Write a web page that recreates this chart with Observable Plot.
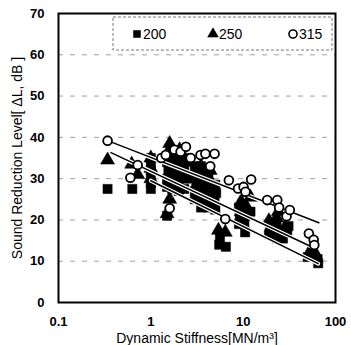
<!DOCTYPE html>
<html><head><meta charset="utf-8">
<script src="https://cdn.jsdelivr.net/npm/d3@7"></script>
<script src="https://cdn.jsdelivr.net/npm/@observablehq/plot@0.6"></script>
<style>body{margin:0;background:#fff} svg{display:block}</style>
</head><body><div id="chart"></div>
<script>
const xTicks = [0.1, 1, 10, 100];
const xTickLabels = ["0.1", "1", "10", "100"];
const yTicks = [0, 10, 20, 30, 40, 50, 60, 70];
const gridY = [10, 20, 30, 40, 50, 60];
const seriesNames = ["200", "250", "315"];
const seriesSymbols = ["square", "triangle", "circle"];

const s200 = [
  [0.34,27.5],[0.63,27.5],
  [1.0,27.5],[1.0,29],[1.0,30.5],[1.0,32],[1.0,33.5],[1.0,35],
  [1.5,21],[1.5,28],[1.5,30],[1.55,32],[1.5,34],
  [1.7,27.5],[1.75,29.5],[1.7,31.5],[1.8,33.5],[1.7,35.5],
  [2.0,27],[2.0,29],[2.1,31],[2.0,33],[2.1,35],
  [2.3,27.5],[2.4,30],[2.3,32.5],[2.5,35],
  [3.0,25],[3.0,27],[3.1,29],[3.0,31],[3.0,33],
  [3.5,23],[3.5,25],[3.6,27],[3.5,29],[3.6,31],[3.5,33],
  [4.2,23],[4.1,25],[4.2,27],[4.3,29],[4.2,31],
  [5.0,22.5],[4.9,24.5],[5.1,26.5],[5.0,28.5],
  [5.5,14],[5.6,15.5],[6.5,13.5],
  [9.0,19],[9.2,21],[9.0,23],
  [10.5,17],[10.3,19],[10.6,21],[10.2,23],
  [12,22],
  [19,16.5],[19.5,18.5],
  [23,15.5],[23.5,17.5],[23,19.5],
  [27,15.5],[27,17],
  [30,17],[31,18.5],
  [50,11],[57,11.5],[56,13],[65,9.5],[64,10.5]
];
const s250 = [
  [0.34,34.5],[0.62,33.5],[0.72,31],
  [1.0,30],[1.0,32.5],[1.0,35],
  [1.5,21.5],[1.6,25],[1.6,38.5],[1.5,36],[1.65,37],
  [2.0,31],[2.0,34],[2.05,37],
  [2.5,30],[2.5,34],
  [3.5,27],[3.4,30],[3.5,33],
  [4.5,26],[4.5,29],[4.4,32],
  [5.4,17.5],[6.4,17],
  [9.5,22],[9.5,24.5],
  [11,23],[12,25.5],
  [19,19.8],[23,20.5],[24,22],[28,18],
  [55,13],[60,12]
];
const s315 = [
  [0.34,39.2],[0.6,30.2],[0.72,33.3],
  [1.3,35],[1.45,35.7],[1.6,22.8],[1.8,37],
  [2.1,36.5],[2.4,37.7],[2.7,35],
  [3.45,35.7],[3.9,36],[4.4,33],[4.9,36],
  [6.4,20.2],[7.0,29.6],
  [8.8,27.6],[10.1,28],[10.6,26.8],[12.2,29.8],
  [18.2,24.8],[23.4,24.8],[24.5,23],[29.5,20.9],[32,22.4],
  [51.5,16.7],[58,15.2],[59,13.9]
];
// trend line end points
const trend315 = [[0.34,39.2],[66,19.3]];
const trend250 = [[0.37,36.3],[55,13.5]];
const trend200 = [[1.0,29.5],[65,9.4]];

const font = "'Liberation Sans', Arial, sans-serif";
const trendMarks = [trend200, trend250, trend315].flatMap(t => [
  Plot.line(t, {x: d => d[0], y: d => d[1], stroke: "white", strokeWidth: 4}),
  Plot.line(t, {x: d => d[0], y: d => d[1], stroke: "black", strokeWidth: 1.5})
]);

const chart = Plot.plot({
  width: 351, height: 345,
  marginLeft: 58, marginRight: 16, marginTop: 13, marginBottom: 43,
  style: {fontFamily: font, background: "white", color: "black"},
  x: {type: "log", domain: [0.1, 100]},
  y: {domain: [0, 70]},
  marks: [
    Plot.ruleY(gridY, {stroke: "#888", strokeWidth: 0.8, strokeDasharray: "5,7"}),
    Plot.dot(s200, {x: d => d[0], y: d => d[1], symbol: "square", r: 5.2, fill: "black", stroke: "black", strokeWidth: 0.5}),
    Plot.dot(s250, {x: d => d[0], y: d => d[1], symbol: "triangle", r: 5.2, fill: "black", stroke: "black", strokeWidth: 0.5}),
    ...trendMarks,
    Plot.dot(s315, {x: d => d[0], y: d => d[1], symbol: "circle", r: 4.4, fill: "white", stroke: "black", strokeWidth: 1.8}),
    Plot.frame({stroke: "black", strokeWidth: 2}),
    Plot.axisX({ticks: xTicks, tickFormat: d => xTickLabels[xTicks.indexOf(d)], tickSize: 0, tickPadding: 14, fontSize: 13, fontWeight: "bold", label: null}),
    Plot.axisY({ticks: yTicks, tickSize: 0, tickPadding: 14, fontSize: 13, fontWeight: "bold", label: null}),
    Plot.text(["Dynamic Stiffness[MN/m³]"], {frameAnchor: "bottom", dy: 36, fontSize: 14, lineAnchor: "middle", textAnchor: "middle"}),
    Plot.text(["Sound Reduction Level[ ΔL, dB ]"], {frameAnchor: "left", dx: -41, rotate: -90, fontSize: 14, lineAnchor: "middle", textAnchor: "middle"})
  ]
});
document.getElementById("chart").appendChild(chart);

// legend inside the plot
const svg = d3.select(chart);
const lg = svg.append("g");
lg.append("rect").attr("x", 113).attr("y", 17).attr("width", 219).attr("height", 33)
  .attr("fill", "white").attr("stroke", "#555").attr("stroke-width", 0.8).attr("stroke-dasharray", "3,2");
const legendX = [137, 213, 293];
const symMap = {square: d3.symbolSquare, triangle: d3.symbolTriangle, circle: d3.symbolCircle};
seriesNames.forEach((name, i) => {
  const sym = d3.symbol(symMap[seriesSymbols[i]], Math.PI * 4 * 4);
  lg.append("path").attr("d", sym()).attr("transform", `translate(${legendX[i]},34)`)
    .attr("fill", i === 2 ? "white" : "black").attr("stroke", "black").attr("stroke-width", i === 2 ? 1.6 : 0.5);
  lg.append("text").attr("x", legendX[i] + 6).attr("y", 34).attr("dy", "0.36em")
    .attr("text-anchor", "start").attr("font-size", 14).attr("font-family", font).text(name);
});
</script>
</body></html>
